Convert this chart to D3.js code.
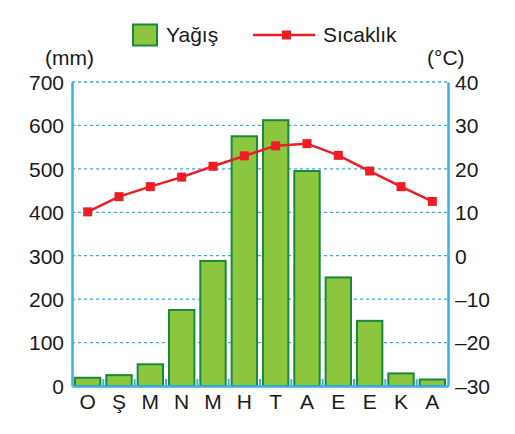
<!DOCTYPE html>
<html>
<head>
<meta charset="utf-8">
<script src="https://cdn.jsdelivr.net/npm/d3@7"></script>
<style>
  body { margin: 0; background: #fff; }
  text { font-family: "Liberation Sans", Arial, sans-serif; fill: #1a1a1a; }
</style>
</head>
<body>
<svg id="chart"></svg>
<script>
const months = ["O", "Ş", "M", "N", "M", "H", "T", "A", "E", "E", "K", "A"];
const rain = [19, 25, 50, 175, 288, 575, 612, 495, 250, 150, 29, 15];
const temp = [10.1, 13.6, 15.9, 18.1, 20.6, 23.0, 25.3, 25.8, 23.1, 19.5, 15.9, 12.5];
const rainTicks = [0, 100, 200, 300, 400, 500, 600, 700];
const tempTicks = [-30, -20, -10, 0, 10, 20, 30, 40];

const width = 515, height = 434;
const margin = { top: 82, right: 67, bottom: 48, left: 72 };
const blue = "#3aaee6";
const fs = "21px";

const svg = d3.select("#chart")
  .attr("width", width)
  .attr("height", height);

const g = svg.append("g")
  .attr("transform", "translate(" + margin.left + "," + margin.top + ")");

const w = width - margin.left - margin.right;
const h = height - margin.top - margin.bottom;

// scales
const x = d3.scaleBand()
  .domain(d3.range(months.length))
  .range([0, w])
  .paddingInner(0.19)
  .paddingOuter(0.095);

const yRain = d3.scaleLinear().domain([0, 700]).range([h, 0]);
const yTemp = d3.scaleLinear().domain([-30, 40]).range([h, 0]);

// grid lines
g.append("g")
  .selectAll("line")
  .data(rainTicks.slice(1))
  .join("line")
  .attr("x1", 0)
  .attr("x2", w)
  .attr("y1", d => yRain(d))
  .attr("y2", d => yRain(d))
  .attr("stroke", blue)
  .attr("stroke-width", 1.3)
  .attr("stroke-dasharray", "3,3");

// bars
g.append("g")
  .selectAll("rect")
  .data(rain)
  .join("rect")
  .attr("x", (d, i) => x(i))
  .attr("y", d => yRain(d))
  .attr("width", x.bandwidth())
  .attr("height", d => h - yRain(d))
  .attr("fill", "#8cc63f")
  .attr("stroke", "#178a3c")
  .attr("stroke-width", 2);

// left axis
const leftAxis = g.append("g")
  .call(d3.axisLeft(yRain).tickValues(rainTicks).tickSize(0).tickPadding(8));
leftAxis.select(".domain").attr("stroke", blue).attr("stroke-width", 2.5);
leftAxis.selectAll("text")
  .style("font-size", fs)
  .attr("dy", "0.35em");

// right axis
const rightAxis = g.append("g")
  .attr("transform", "translate(" + w + ",0)")
  .call(d3.axisRight(yTemp).tickValues(tempTicks).tickSize(0).tickPadding(7)
    .tickFormat(d => d < 0 ? "\u2013" + Math.abs(d) : d));
rightAxis.select(".domain").attr("stroke", blue).attr("stroke-width", 2.5);
rightAxis.selectAll("text")
  .style("font-size", fs)
  .attr("dy", "0.35em");

// bottom axis
const bottom = g.append("g")
  .attr("transform", "translate(0," + h + ")")
  .call(d3.axisBottom(x).tickSize(0).tickPadding(8).tickFormat(i => months[i]));
bottom.select(".domain").attr("stroke", blue).attr("stroke-width", 2.5);
bottom.selectAll("text").style("font-size", fs);

// small ticks between bars
const step = x.step();
g.append("g")
  .selectAll("line")
  .data(d3.range(1, months.length))
  .join("line")
  .attr("x1", i => x(i) - (step - x.bandwidth()) / 2)
  .attr("x2", i => x(i) - (step - x.bandwidth()) / 2)
  .attr("y1", h)
  .attr("y2", h - 7)
  .attr("stroke", blue)
  .attr("stroke-width", 2);

// temperature line
const line = d3.line()
  .x((d, i) => x(i) + x.bandwidth() / 2)
  .y(d => yTemp(d));

g.append("path")
  .datum(temp)
  .attr("fill", "none")
  .attr("stroke", "#ee1d25")
  .attr("stroke-width", 2.5)
  .attr("d", line);

g.append("g")
  .selectAll("rect")
  .data(temp)
  .join("rect")
  .attr("x", (d, i) => x(i) + x.bandwidth() / 2 - 4.5)
  .attr("y", d => yTemp(d) - 4.5)
  .attr("width", 9)
  .attr("height", 9)
  .attr("fill", "#ee1d25");

// unit labels
svg.append("text")
  .attr("x", 45)
  .attr("y", 65)
  .style("font-size", fs)
  .text("(mm)");

svg.append("text")
  .attr("x", 427)
  .attr("y", 65)
  .style("font-size", fs)
  .text("(°C)");

// legend
const legend = svg.append("g");
legend.append("rect")
  .attr("x", 133)
  .attr("y", 24.5)
  .attr("width", 24)
  .attr("height", 21)
  .attr("fill", "#8cc63f")
  .attr("stroke", "#178a3c")
  .attr("stroke-width", 2);
legend.append("text")
  .attr("x", 166)
  .attr("y", 42)
  .style("font-size", fs)
  .text("Yağış");

legend.append("line")
  .attr("x1", 253)
  .attr("x2", 315)
  .attr("y1", 35)
  .attr("y2", 35)
  .attr("stroke", "#ee1d25")
  .attr("stroke-width", 2.5);
legend.append("rect")
  .attr("x", 282)
  .attr("y", 30.5)
  .attr("width", 9)
  .attr("height", 9)
  .attr("fill", "#ee1d25");
legend.append("text")
  .attr("x", 323)
  .attr("y", 42)
  .style("font-size", fs)
  .text("Sıcaklık");
</script>
</body>
</html>
